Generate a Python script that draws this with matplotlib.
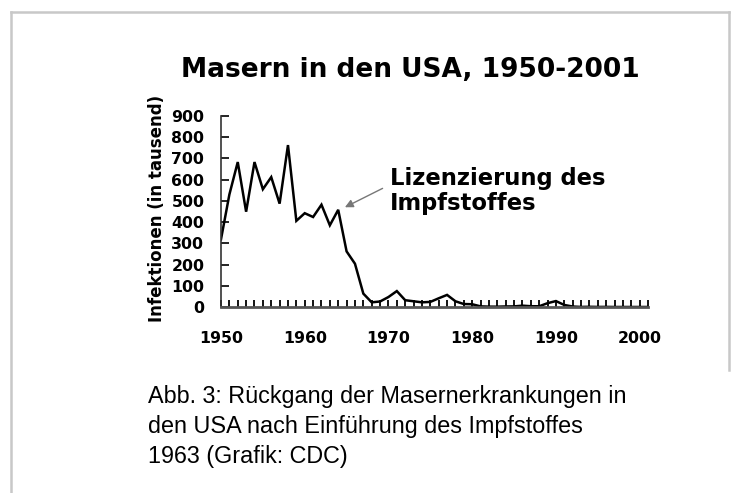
import matplotlib
matplotlib.use("Agg")
import matplotlib.pyplot as plt
from matplotlib.lines import Line2D

years = list(range(1950, 2002))
cases_thousands = [319, 530, 683, 449, 683, 555, 612, 487, 763, 406,
                   442, 424, 482, 385, 458, 262, 204, 63, 22, 26,
                   47, 75, 32, 27, 22, 24, 41, 57, 27, 14,
                   13, 3, 1.7, 1.5, 2.6, 2.8, 6.3, 3.7, 3.4, 18,
                   28, 9.6, 2.2, 0.3, 1.0, 0.3, 0.5, 0.1, 0.1, 0.1,
                   0.09, 0.1]
x_ticks = [1950, 1960, 1970, 1980, 1990, 2000]
y_ticks = [0, 100, 200, 300, 400, 500, 600, 700, 800, 900]

title = "Masern in den USA, 1950-2001"
ylabel = "Infektionen (in tausend)"
annot = "Lizenzierung des\nImpfstoffes"
caption = ("Abb. 3: Rückgang der Masernerkrankungen in\n"
           "den USA nach Einführung des Impfstoffes\n"
           "1963 (Grafik: CDC)")

W, H = 731, 493
fig = plt.figure(figsize=(W / 100, H / 100), dpi=100)
fig.patch.set_facecolor("white")

def fx(px):
    return px / W

def fy(py):
    return 1 - py / H

# frame border
border_color = "#c8c8c8"
fig.add_artist(Line2D([fx(10.5), fx(10.5)], [fy(11.5), 0], color=border_color, lw=1.8, transform=fig.transFigure))
fig.add_artist(Line2D([fx(10.5), fx(729)], [fy(11.5), fy(11.5)], color=border_color, lw=1.8, transform=fig.transFigure))
fig.add_artist(Line2D([fx(729), fx(729)], [fy(11.5), fy(370)], color=border_color, lw=1.8, transform=fig.transFigure))

ax = fig.add_axes([fx(221), fy(307), fx(648) - fx(221), fy(116) - fy(307)])
ax.plot(years, cases_thousands, color="black", lw=1.8, solid_joinstyle="miter")
ax.set_xlim(1950, 2001)
ax.set_ylim(0, 900)
for s in ["top", "right"]:
    ax.spines[s].set_visible(False)
ax.spines["left"].set_color("#333333")
ax.spines["left"].set_linewidth(1.2)
ax.spines["bottom"].set_color("#555555")
ax.spines["bottom"].set_linewidth(2.0)

ax.set_xticks(x_ticks)
ax.set_xticks(years, minor=True)
ax.set_yticks(y_ticks)
ax.tick_params(axis="x", which="both", direction="in", length=5, width=1.3, color="black", pad=17)
ax.tick_params(axis="y", which="both", direction="in", length=6, width=1.2, color="black", pad=12)
for lab in ax.get_xticklabels() + ax.get_yticklabels():
    lab.set_fontweight("bold")
    lab.set_fontsize(11.3)
    lab.set_fontfamily("DejaVu Sans")

fig.text(fx(410), fy(70), title, ha="center", va="center", fontsize=19,
         fontweight="bold", family="DejaVu Sans")
fig.text(fx(157), fy(208), ylabel, ha="center", va="center", rotation=90,
         fontsize=12, fontweight="bold", family="DejaVu Sans")
fig.text(fx(390), fy(191), annot, ha="left", va="center", fontsize=16.3,
         fontweight="bold", family="DejaVu Sans", linespacing=1.15)

ax.annotate("", xy=(1964.8, 470), xytext=(1969.3, 559),
            arrowprops=dict(arrowstyle="-|>", color="#777777", lw=1.0,
                            mutation_scale=12, shrinkA=0, shrinkB=0),
            annotation_clip=False)

fig.text(fx(148), fy(385), caption, ha="left", va="top", fontsize=16.8,
         family="Liberation Sans", linespacing=1.4)

fig.savefig("out.png", dpi=100)
